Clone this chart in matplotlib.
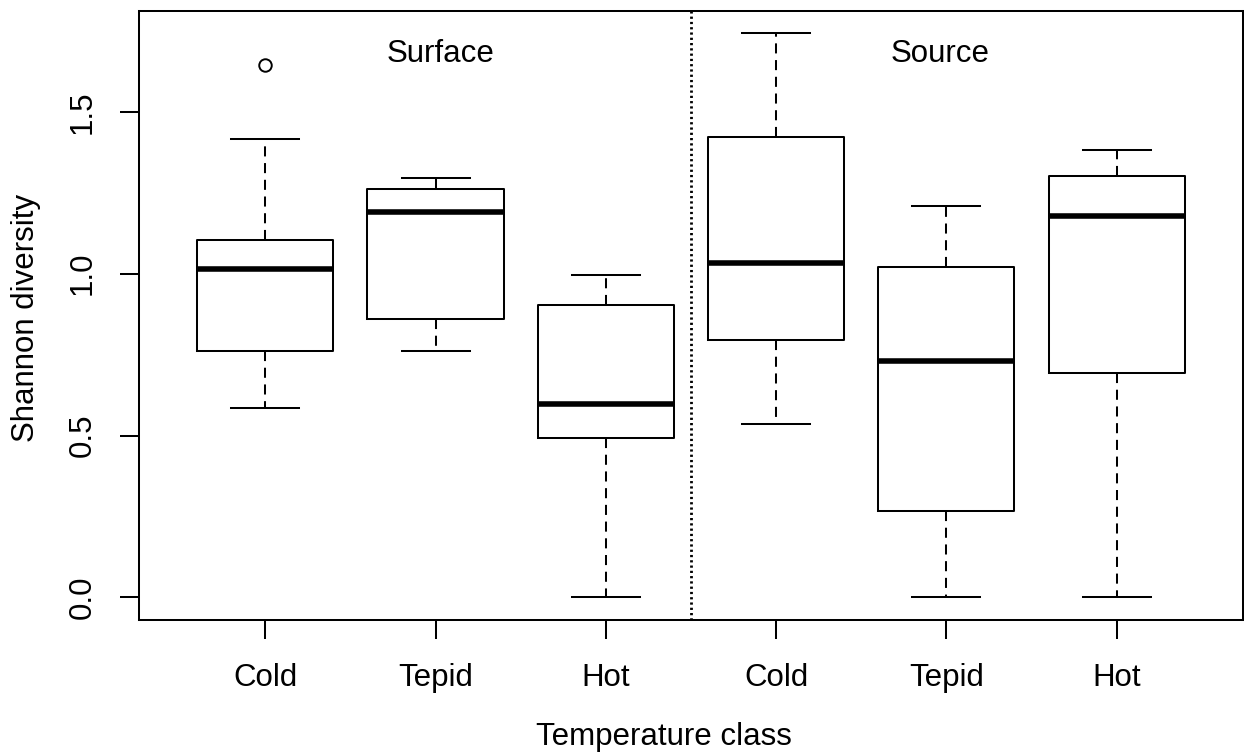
import matplotlib
matplotlib.use("Agg")
import matplotlib.pyplot as plt

# values (Shannon diversity)
labels = ["Cold", "Tepid", "Hot", "Cold", "Tepid", "Hot"]
whislo = [0.585, 0.760, 0.0, 0.536, 0.0, 0.0]
q1 = [0.761, 0.859, 0.492, 0.794, 0.268, 0.693]
med = [1.016, 1.190, 0.598, 1.034, 0.729, 1.178]
q3 = [1.105, 1.263, 0.904, 1.423, 1.022, 1.302]
whishi = [1.415, 1.296, 0.997, 1.745, 1.208, 1.383]
fliers = [[1.645], [], [], [], [], []]

plt.rcParams["font.family"] = ["Liberation Sans", "DejaVu Sans"]

fig = plt.figure(figsize=(12.44, 7.53), dpi=100)
ax = fig.add_axes([139.3 / 1244, 1 - 620 / 753, (1242.6 - 139.3) / 1244, (620 - 10.7) / 753])

stats = []
for i in range(len(labels)):
    stats.append(dict(whislo=whislo[i], q1=q1[i], med=med[i], q3=q3[i],
                      whishi=whishi[i], fliers=fliers[i], label=labels[i]))

lw = 1.45
ax.bxp(stats, positions=range(1, 7), widths=0.8, capwidths=0.4,
       boxprops=dict(color="black", linewidth=lw),
       medianprops=dict(color="black", linewidth=4.0, solid_capstyle="butt"),
       whiskerprops=dict(color="black", linewidth=lw, linestyle=(0, (5.0, 3.3))),
       capprops=dict(color="black", linewidth=lw),
       flierprops=dict(marker="o", markerfacecolor="none", markeredgecolor="black",
                       markersize=9, markeredgewidth=1.4))

# divider between surface and source
ax.axvline(3.5, color="black", linewidth=2.0, linestyle=(0, (0.8, 1.1)))

ax.text(2.031, 1.653, "Surface", fontsize=22.5, ha="center", va="baseline")
ax.text(4.966, 1.653, "Source", fontsize=22.5, ha="center", va="baseline")

ax.set_xlim(0.26, 6.74)
ax.set_ylim(-0.0698, 1.8125)
ax.set_xticks(range(1, 7))
ax.set_xticklabels(labels)
ax.set_yticks([0.0, 0.5, 1.0, 1.5])
ax.set_yticklabels(["0.0", "0.5", "1.0", "1.5"], rotation=90, va="center")
ax.tick_params(axis="x", length=14, width=lw, labelsize=22.5, pad=17)
ax.tick_params(axis="y", length=14, width=lw, labelsize=22.5, pad=16)
for s in ax.spines.values():
    s.set_linewidth(lw)

fig.text(26 / 1244, 1 - 318 / 753, "Shannon diversity", rotation=90,
         fontsize=22.5, ha="center", va="center")
fig.text(664 / 1244, 1 - 745 / 753, "Temperature class", fontsize=22.5,
         ha="center", va="baseline")

fig.savefig("out.png", dpi=100)
